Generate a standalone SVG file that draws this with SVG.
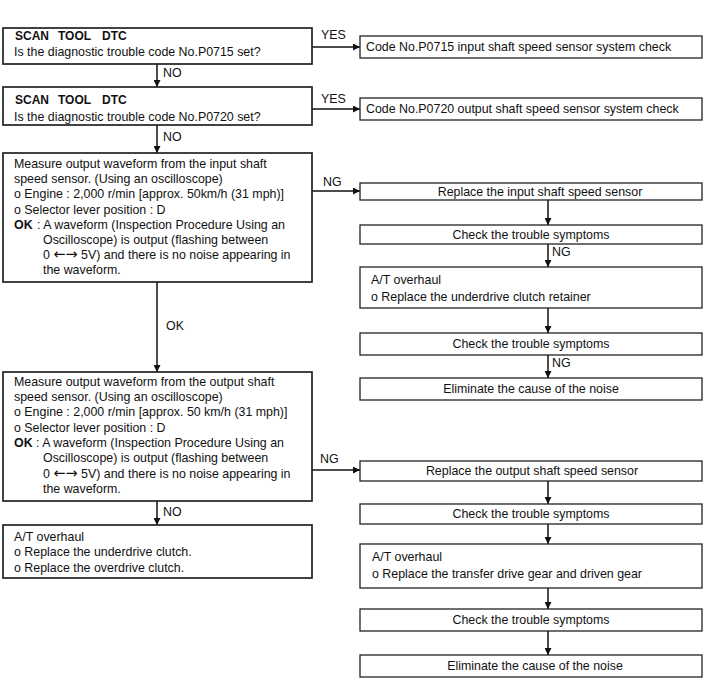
<svg xmlns="http://www.w3.org/2000/svg" width="720" height="700" viewBox="0 0 720 700">
<defs>
<marker id="ah" viewBox="0 0 10 10" refX="10" refY="5" markerWidth="8" markerHeight="7" markerUnits="userSpaceOnUse" orient="auto">
<path d="M0,0 L10,5 L0,10 z" fill="#111"/>
</marker>
</defs>
<style>
text{font-family:"Liberation Sans",Arial,sans-serif;font-size:12.4px;fill:#111}
.b{font-weight:bold;font-size:12px}
.ob{font-weight:bold}
.ar{font-family:"DejaVu Sans",sans-serif;font-size:14.5px}
.c{text-anchor:middle}
.L{fill:#fff;stroke:#222;stroke-width:1.7}
.R{fill:#fff;stroke:#222;stroke-width:1.3}
.k{stroke:#111;stroke-width:1.5;fill:none}
</style>
<rect width="720" height="700" fill="#fff"/>
<g id="connectors">
<line class="k" x1="312" y1="47" x2="360" y2="47" marker-end="url(#ah)"/>
<line class="k" x1="312" y1="109" x2="360" y2="109" marker-end="url(#ah)"/>
<line class="k" x1="157" y1="64" x2="157" y2="87" marker-end="url(#ah)"/>
<line class="k" x1="157" y1="125" x2="157" y2="153" marker-end="url(#ah)"/>
<line class="k" x1="312" y1="191" x2="360" y2="191" marker-end="url(#ah)"/>
<line class="k" x1="157" y1="282" x2="157" y2="372" marker-end="url(#ah)"/>
<line class="k" x1="312" y1="470" x2="360" y2="470" marker-end="url(#ah)"/>
<line class="k" x1="157" y1="501" x2="157" y2="525" marker-end="url(#ah)"/>
<line class="k" x1="548" y1="200" x2="548" y2="225" marker-end="url(#ah)"/>
<line class="k" x1="548" y1="244" x2="548" y2="267" marker-end="url(#ah)"/>
<line class="k" x1="548" y1="308" x2="548" y2="333" marker-end="url(#ah)"/>
<line class="k" x1="548" y1="355" x2="548" y2="378" marker-end="url(#ah)"/>
<line class="k" x1="548" y1="481" x2="548" y2="504" marker-end="url(#ah)"/>
<line class="k" x1="548" y1="524" x2="548" y2="544" marker-end="url(#ah)"/>
<line class="k" x1="548" y1="588" x2="548" y2="609" marker-end="url(#ah)"/>
<line class="k" x1="548" y1="631" x2="548" y2="655" marker-end="url(#ah)"/>
<text x="321" y="39">YES</text>
<text x="321" y="103">YES</text>
<text x="163" y="77">NO</text>
<text x="163" y="141">NO</text>
<text x="323" y="186">NG</text>
<text x="166" y="330">OK</text>
<text x="320" y="463">NG</text>
<text x="163" y="516">NO</text>
<text x="552" y="256">NG</text>
<text x="552" y="367">NG</text>
</g>
<g id="q1">
<rect class="L" x="3" y="28" width="309" height="36"/>
<text class="b" y="40"><tspan x="15">SCAN</tspan><tspan x="58">TOOL</tspan><tspan x="102">DTC</tspan></text>
<text x="14" y="56">Is the diagnostic trouble code No.P0715 set?</text>
</g>
<g id="q2">
<rect class="L" x="3" y="87" width="309" height="38"/>
<text class="b" y="104"><tspan x="15">SCAN</tspan><tspan x="58">TOOL</tspan><tspan x="102">DTC</tspan></text>
<text x="14" y="121">Is the diagnostic trouble code No.P0720 set?</text>
</g>
<g id="r1">
<rect class="R" x="360" y="36" width="342" height="22"/>
<text x="366" y="51">Code No.P0715 input shaft speed sensor system check</text>
</g>
<g id="r2">
<rect class="R" x="360" y="98" width="342" height="22"/>
<text x="366" y="113">Code No.P0720 output shaft speed sensor system check</text>
</g>
<g id="m1">
<rect class="L" x="3" y="153" width="309" height="129"/>
<text x="14" y="168">Measure output waveform from the input shaft</text>
<text x="14" y="183">speed sensor. (Using an oscilloscope)</text>
<text x="14" y="198">o Engine : 2,000 r/min [approx. 50km/h (31 mph)]</text>
<text x="14" y="214">o Selector lever position : D</text>
<text x="14" y="229"><tspan class="ob">OK</tspan><tspan x="37">: A waveform (Inspection Procedure Using an</tspan></text>
<text x="43" y="244">Oscilloscope) is output (flashing between</text>
<text x="43" y="259">0 <tspan class="ar">←→</tspan> 5V) and there is no noise appearing in</text>
<text x="43" y="274">the waveform.</text>
</g>
<g id="m2">
<rect class="L" x="3" y="372" width="309" height="129"/>
<text x="14" y="386">Measure output waveform from the output shaft</text>
<text x="14" y="401">speed sensor. (Using an oscilloscope)</text>
<text x="14" y="416">o Engine : 2,000 r/min [approx. 50 km/h (31 mph)]</text>
<text x="14" y="432">o Selector lever position : D</text>
<text x="14" y="447"><tspan class="ob">OK</tspan><tspan x="36">: A waveform (Inspection Procedure Using an</tspan></text>
<text x="43" y="462">Oscilloscope) is output (flashing between</text>
<text x="43" y="478">0 <tspan class="ar">←→</tspan> 5V) and there is no noise appearing in</text>
<text x="43" y="493">the waveform.</text>
</g>
<g id="m3">
<rect class="L" x="3" y="525" width="309" height="53"/>
<text x="14" y="541">A/T overhaul</text>
<text x="14" y="556">o Replace the underdrive clutch.</text>
<text x="14" y="572">o Replace the overdrive clutch.</text>
</g>
<g id="a1">
<rect class="R" x="360" y="183" width="342" height="17"/>
<text class="c" x="540" y="196">Replace the input shaft speed sensor</text>
</g>
<g id="a2">
<rect class="R" x="360" y="225" width="342" height="19"/>
<text class="c" x="531" y="239">Check the trouble symptoms</text>
</g>
<g id="a3">
<rect class="R" x="360" y="267" width="342" height="41"/>
<text x="371" y="284">A/T overhaul</text>
<text x="371" y="301">o Replace the underdrive clutch retainer</text>
</g>
<g id="a4">
<rect class="R" x="360" y="333" width="342" height="22"/>
<text class="c" x="531" y="348">Check the trouble symptoms</text>
</g>
<g id="a5">
<rect class="R" x="360" y="378" width="342" height="22"/>
<text class="c" x="531" y="393">Eliminate the cause of the noise</text>
</g>
<g id="b1">
<rect class="R" x="360" y="461" width="342" height="20"/>
<text class="c" x="532" y="475">Replace the output shaft speed sensor</text>
</g>
<g id="b2">
<rect class="R" x="360" y="504" width="342" height="20"/>
<text class="c" x="531" y="518">Check the trouble symptoms</text>
</g>
<g id="b3">
<rect class="R" x="360" y="544" width="342" height="44"/>
<text x="372" y="561">A/T overhaul</text>
<text x="372" y="578">o Replace the transfer drive gear and driven gear</text>
</g>
<g id="b4">
<rect class="R" x="360" y="609" width="342" height="22"/>
<text class="c" x="531" y="624">Check the trouble symptoms</text>
</g>
<g id="b5">
<rect class="R" x="360" y="655" width="342" height="22"/>
<text class="c" x="535" y="670">Eliminate the cause of the noise</text>
</g>
</svg>
